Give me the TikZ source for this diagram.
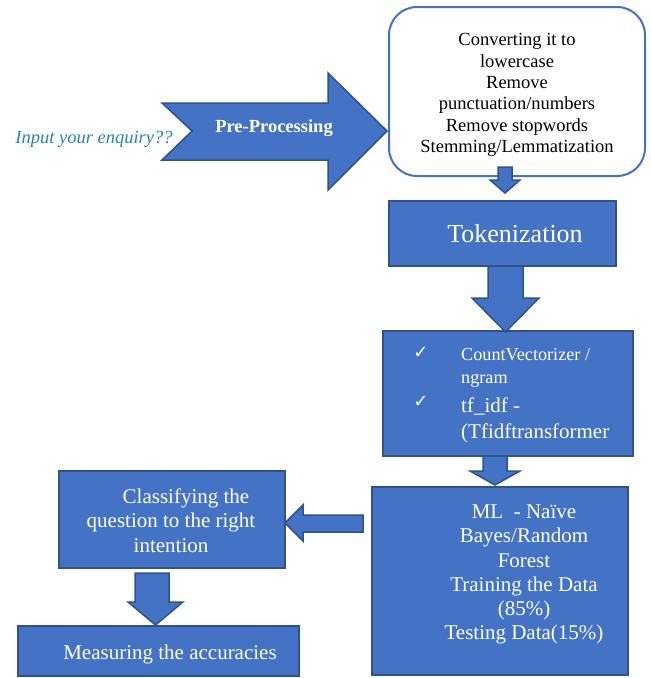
\documentclass[tikz,border=0pt]{standalone}
\usepackage{fontspec}
\setmainfont{Liberation Serif}
\newfontfamily\symfont{DejaVu Sans}
\definecolor{boxblue}{HTML}{4472C4}
\definecolor{edgeblue}{HTML}{2F528F}
\definecolor{inputblue}{HTML}{2B83AD}
\begin{document}
\begin{tikzpicture}[x=1pt,y=-1pt,
  bluebox/.style={fill=boxblue,draw=edgeblue,line width=1.5pt,inner sep=0pt},
  rbox/.style={fill=white,draw=boxblue,line width=2pt,rounded corners=28pt,inner sep=0pt},
  barrow/.style={fill=boxblue,draw=edgeblue,line width=1.5pt,line join=miter},
  wtxt/.style={text=white,inner sep=0pt,align=center},
  btxt/.style={text=black,inner sep=0pt,align=center},
  fa/.style={font=\fontsize{18.5}{21.3}\selectfont},
  fb/.style={font=\fontsize{21}{24.3}\selectfont},
  chk/.style={text=white,inner sep=0pt,font=\symfont\fontsize{18}{18}\selectfont}]
\useasboundingbox (0,0) rectangle (651,678);

% Pre-processing block arrow
\draw[barrow] (162,103) -- (328,103) -- (328,73) -- (387,131) -- (328,190) -- (328,160) -- (162,160) -- (192,131) -- cycle;
\node[wtxt,font=\fontsize{18.5}{21}\selectfont\bfseries,anchor=base] (pptext) at (274,132) {Pre-Processing};
\node[inner sep=0pt,text=inputblue,font=\fontsize{18.5}{21}\selectfont\itshape,anchor=base] (input) at (94,143) {Input your enquiry??};

% Rounded box
\node[rbox,minimum width=256pt,minimum height=169pt] (prebox) at (517,91.5) {};
\node[btxt,fa] (pretext) at (517,95) {Converting it to\\lowercase\\Remove\\punctuation/numbers\\Remove stopwords\\Stemming/Lemmatization};

% Blue boxes
\node[bluebox,minimum width=227pt,minimum height=65pt] (tok) at (502.5,233.5) {};
\node[wtxt,font=\fontsize{26}{30}\selectfont,anchor=base] (toktext) at (515,242) {Tokenization};

\node[bluebox,minimum width=250pt,minimum height=125pt] (vec) at (508,393.5) {};
\node[chk] (chk1) at (421,353) {✓};
\node[chk] (chk2) at (421,402) {✓};
\node[wtxt,font=\fontsize{18.2}{21}\selectfont,anchor=base west] (v1) at (461,360) {CountVectorizer /};
\node[wtxt,font=\fontsize{18.2}{21}\selectfont,anchor=base west] (v2) at (461,383) {ngram};
\node[wtxt,font=\fontsize{21}{24}\selectfont,anchor=base west] (v3) at (461,412) {tf\_idf -};
\node[wtxt,font=\fontsize{21}{24}\selectfont,anchor=base west] (v4) at (461,438) {(Tfidftransformer};

\node[bluebox,minimum width=256pt,minimum height=188pt] (ml) at (500,581) {};
\node[wtxt,fb] (mltext) at (524,574.6) {ML\ \ - Naïve\\Bayes/Random\\Forest\\Training the Data\\(85\%)\\Testing Data(15\%)};

\node[bluebox,minimum width=226pt,minimum height=97pt] (cls) at (172,519.5) {};
\node[wtxt,font=\fontsize{21}{24.5}\selectfont] (clstext) at (171,520.4) {\hspace*{30pt}Classifying the\\question to the right\\intention};

\node[bluebox,minimum width=281pt,minimum height=50pt] (meas) at (158.5,651) {};
\node[wtxt,fb,anchor=base] (meastext) at (170,659) {Measuring the accuracies};

% Block arrows between boxes
\draw[barrow] (498,167) -- (512,167) -- (512,180) -- (520,180) -- (505,193) -- (490,180) -- (498,180) -- cycle;
\draw[barrow] (488,266) -- (523,266) -- (523,298) -- (539,298) -- (505.5,332) -- (472,298) -- (488,298) -- cycle;
\draw[barrow] (483,456) -- (507,456) -- (507,471) -- (520,471) -- (495,485) -- (470,471) -- (483,471) -- cycle;
\draw[barrow] (363,515) -- (363,532) -- (303,532) -- (303,541) -- (285,523) -- (303,505) -- (303,515) -- cycle;
\draw[barrow] (135,573) -- (169,573) -- (169,602) -- (183,602) -- (155.5,625) -- (128,602) -- (135,602) -- cycle;
\end{tikzpicture}
\end{document}
